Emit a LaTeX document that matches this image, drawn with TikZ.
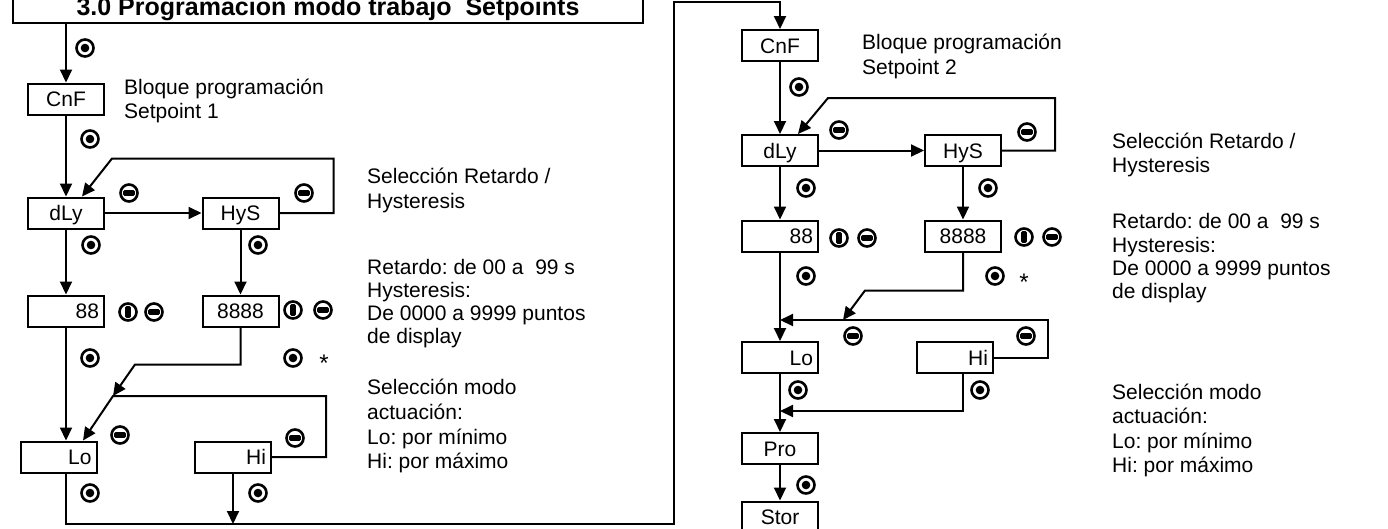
\documentclass[tikz,border=0pt]{standalone}
\usepackage{fontspec}
\setmainfont{Liberation Sans}
\usetikzlibrary{arrows.meta,calc}
\frenchspacing
\tikzset{
  okb/.pic={\draw[line width=2.6pt] (0,0) circle[radius=8.5pt]; \fill (0,0) circle[radius=4.3pt];},
  minb/.pic={\draw[line width=2.6pt] (0,0) circle[radius=8.5pt]; \fill[rounded corners=1.4pt] (-5.8pt,-2.9pt) rectangle (5.8pt,2.9pt);},
  infb/.pic={\draw[line width=2.6pt] (0,0) circle[radius=8.5pt]; \fill[rounded corners=1.4pt] (-2.9pt,-5.8pt) rectangle (2.9pt,5.8pt);},
  box/.style={draw, line width=2pt, minimum width=76pt, minimum height=31pt, inner sep=0pt, text height=15pt, text depth=0pt, font=\fontsize{21pt}{24pt}\selectfont},
  rbox/.style={box, text width=66pt, align=right},
  arr/.style={draw, line width=2pt, -{Triangle[length=13pt,width=12pt]}},
  txt/.style={anchor=base west, inner sep=0pt, font=\fontsize{21pt}{24pt}\selectfont\frenchspacing},
  star/.style={anchor=base, inner sep=0pt, font=\fontsize{24pt}{24pt}\selectfont},
}
\begin{document}
\begin{tikzpicture}[x=1pt,y=-1pt]
\useasboundingbox (0,0) rectangle (1388,528);
\clip (0,0) rectangle (1388,528);
% title
\node[draw, line width=2pt, minimum width=630pt, minimum height=33pt, inner sep=0pt, text height=18pt, text depth=0pt, font=\bfseries\fontsize{25pt}{30pt}\selectfont] (title) at (328,6.5) {3.0 Programacion modo trabajo\ \ Setpoints};
% left column
\node[box] (CnF1) at (66,99) {CnF};
\node[box] (dLy1) at (66,213) {dLy};
\node[box] (HyS1) at (240.5,213) {HyS};
\node[rbox] (a88) at (66,311) {88};
\node[box] (a8888) at (240.5,311) {8888};
\node[rbox] (Lo1) at (58.5,457) {Lo};
\node[rbox] (Hi1) at (233,457) {Hi};
% right column
\node[box] (CnF2) at (780,45.5) {CnF};
\node[box] (dLy2) at (780,150.5) {dLy};
\node[box] (HyS2) at (963,150.5) {HyS};
\node[rbox] (b88) at (780,236) {88};
\node[box] (b8888) at (963,236) {8888};
\node[rbox] (Lo2) at (780,357.5) {Lo};
\node[rbox] (Hi2) at (955,357.5) {Hi};
\node[box] (Pro) at (780,448.5) {Pro};
\node[box] (Stor) at (780,517) {Stor};
% coordinates
\coordinate (j1) at (113,396);
\coordinate (j2) at (843,320);
\coordinate (j3) at (780,411);
\coordinate (bot) at (66,524);
\coordinate (topc) at (674,2);
% left connectors
\draw[arr] (CnF1.north |- title.south) -- (CnF1.north);
\draw[arr] (CnF1.south) -- (dLy1.north);
\draw[arr] (dLy1.east) -- (HyS1.west);
\draw[arr] (HyS1.east) -- ++(54,0) |- ($(dLy1.north)+(46,-38)$) -- ($(dLy1.north)+(16,0)$);
\draw[arr] (dLy1.south) -- (a88.north);
\draw[arr] (HyS1.south) -- (a8888.north);
\draw[arr] (a88.south) -- (a88.south |- Lo1.north);
\draw[arr] (a8888.south) |- ($(a8888.south)+(-105.5,37)$) -- (j1);
\draw[arr] (Hi1.east) -- ++(54,0) |- (j1) -- ($(Lo1.north)+(24.5,0)$);
\draw[arr] (a88.south |- Lo1.south) -- (bot) -| (topc) -| (CnF2.north);
\draw[arr] (Hi1.south) -- (Hi1.south |- bot);
% right connectors
\draw[arr] (CnF2.south) -- (dLy2.north);
\draw[arr] (dLy2.east) -- (HyS2.west);
\draw[arr] (HyS2.east) -- ++(53,0) |- ($(dLy2.north)+(48,-36)$) -- ($(dLy2.north)+(18,0)$);
\draw[arr] (dLy2.south) -- (b88.north);
\draw[arr] (HyS2.south) -- (b8888.north);
\draw[arr] (b88.south) -- (Lo2.north);
\draw[arr] (b8888.south) |- ($(b8888.south)+(-98,38)$) -- (j2);
\draw[arr] (Hi2.east) -- ++(54,0) |- (b88.south |- j2);
\draw[arr] (Lo2.south) -- (Pro.north);
\draw[arr] (b8888.south |- Hi2.south) |- (j3);
\draw[arr] (Pro.south) -- (Stor.north);
% symbols left
\pic at (85,48) {okb};
\pic at (90,139) {okb};
\pic at (91,245) {okb};
\pic at (258,245) {okb};
\pic at (90,358) {okb};
\pic at (293,358) {okb};
\pic at (90,493) {okb};
\pic at (258,493) {okb};
\pic at (129,193) {minb};
\pic at (304,193) {minb};
\pic at (154,312) {minb};
\pic at (323,310) {minb};
\pic at (120,435) {minb};
\pic at (295,438) {minb};
\pic at (128,312) {infb};
\pic at (293,310) {infb};
% symbols right
\pic at (799,87) {okb};
\pic at (806,188) {okb};
\pic at (988,188) {okb};
\pic at (806,276) {okb};
\pic at (995,276) {okb};
\pic at (798,390) {okb};
\pic at (980,390) {okb};
\pic at (806,485) {okb};
\pic at (839,130) {minb};
\pic at (1027,132) {minb};
\pic at (867,238) {minb};
\pic at (1052,237) {minb};
\pic at (853,336) {minb};
\pic at (1026,336) {minb};
\pic at (839,238) {infb};
\pic at (1024,237) {infb};
\node[star] (st1) at (324,371) {*};
\node[star] (st2) at (1024,290) {*};
% texts left
\node[txt] (l1a) at (124,94) {Bloque programación};
\node[txt] (l1b) at (124,118) {Setpoint 1};
\node[txt] (l2a) at (367,183) {Selección Retardo /};
\node[txt] (l2b) at (367,208) {Hysteresis};
\node[txt] (l3a) at (367,274) {Retardo: de 00 a\ \ 99 s};
\node[txt] (l3b) at (367,297) {Hysteresis:};
\node[txt] (l3c) at (367,320) {De 0000 a 9999 puntos};
\node[txt] (l3d) at (367,343) {de display};
\node[txt] (l4a) at (367,394) {Selección modo};
\node[txt] (l4b) at (367,419) {actuación:};
\node[txt] (l4c) at (367,444) {Lo: por mínimo};
\node[txt] (l4d) at (367,468) {Hi: por máximo};
% texts right
\node[txt] (r1a) at (862,49) {Bloque programación};
\node[txt] (r1b) at (862,74) {Setpoint 2};
\node[txt] (r2a) at (1112,148) {Selección Retardo /};
\node[txt] (r2b) at (1112,172) {Hysteresis};
\node[txt] (r3a) at (1112,228) {Retardo: de 00 a\ \ 99 s};
\node[txt] (r3b) at (1112,252) {Hysteresis:};
\node[txt] (r3c) at (1112,275) {De 0000 a 9999 puntos};
\node[txt] (r3d) at (1112,298) {de display};
\node[txt] (r4a) at (1112,399) {Selección modo};
\node[txt] (r4b) at (1112,423.5) {actuación:};
\node[txt] (r4c) at (1112,448) {Lo: por mínimo};
\node[txt] (r4d) at (1112,472.5) {Hi: por máximo};
\end{tikzpicture}
\end{document}
